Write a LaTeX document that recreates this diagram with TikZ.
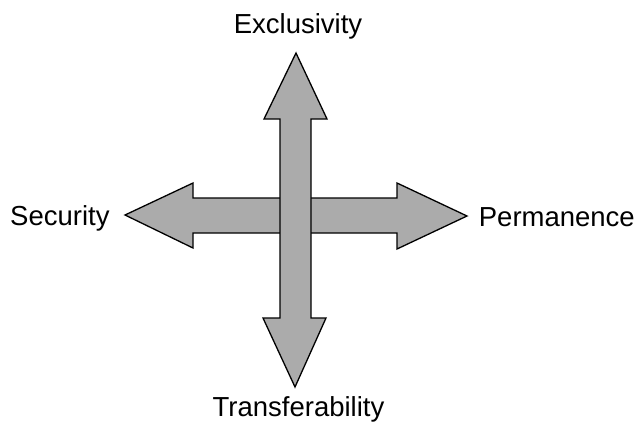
\documentclass[tikz,border=0pt]{standalone}
\usepackage{fontspec}
\setmainfont{Liberation Sans}
\begin{document}
\begin{tikzpicture}[x=1pt,y=-1pt,
  arrowbody/.style={draw=black,line width=1.3pt,fill=black!33,line join=miter},
  lbl/.style={inner sep=0pt,font=\fontsize{27.5}{31}\selectfont}]
\useasboundingbox (0,0) rectangle (639,424);
% horizontal double arrow
\draw[arrowbody] (125,215) -- (193,183) -- (193,198) -- (397,198) -- (397,183)
  -- (467,216) -- (397,249) -- (397,233) -- (193,233) -- (193,248) -- cycle;
% vertical double arrow
\draw[arrowbody] (296,53) -- (327,119) -- (311,119) -- (311,318) -- (326,318)
  -- (295,387) -- (263,318) -- (280,318) -- (280,119) -- (264,119) -- cycle;
\node[lbl,anchor=base] (excl) at (298,33) {Exclusivity};
\node[lbl,anchor=base west] (sec) at (10,225) {Security};
\node[lbl,anchor=base east] (perm) at (635,226) {Permanence};
\node[lbl,anchor=base] (trans) at (298.5,416) {Transferability};
\end{tikzpicture}
\end{document}
